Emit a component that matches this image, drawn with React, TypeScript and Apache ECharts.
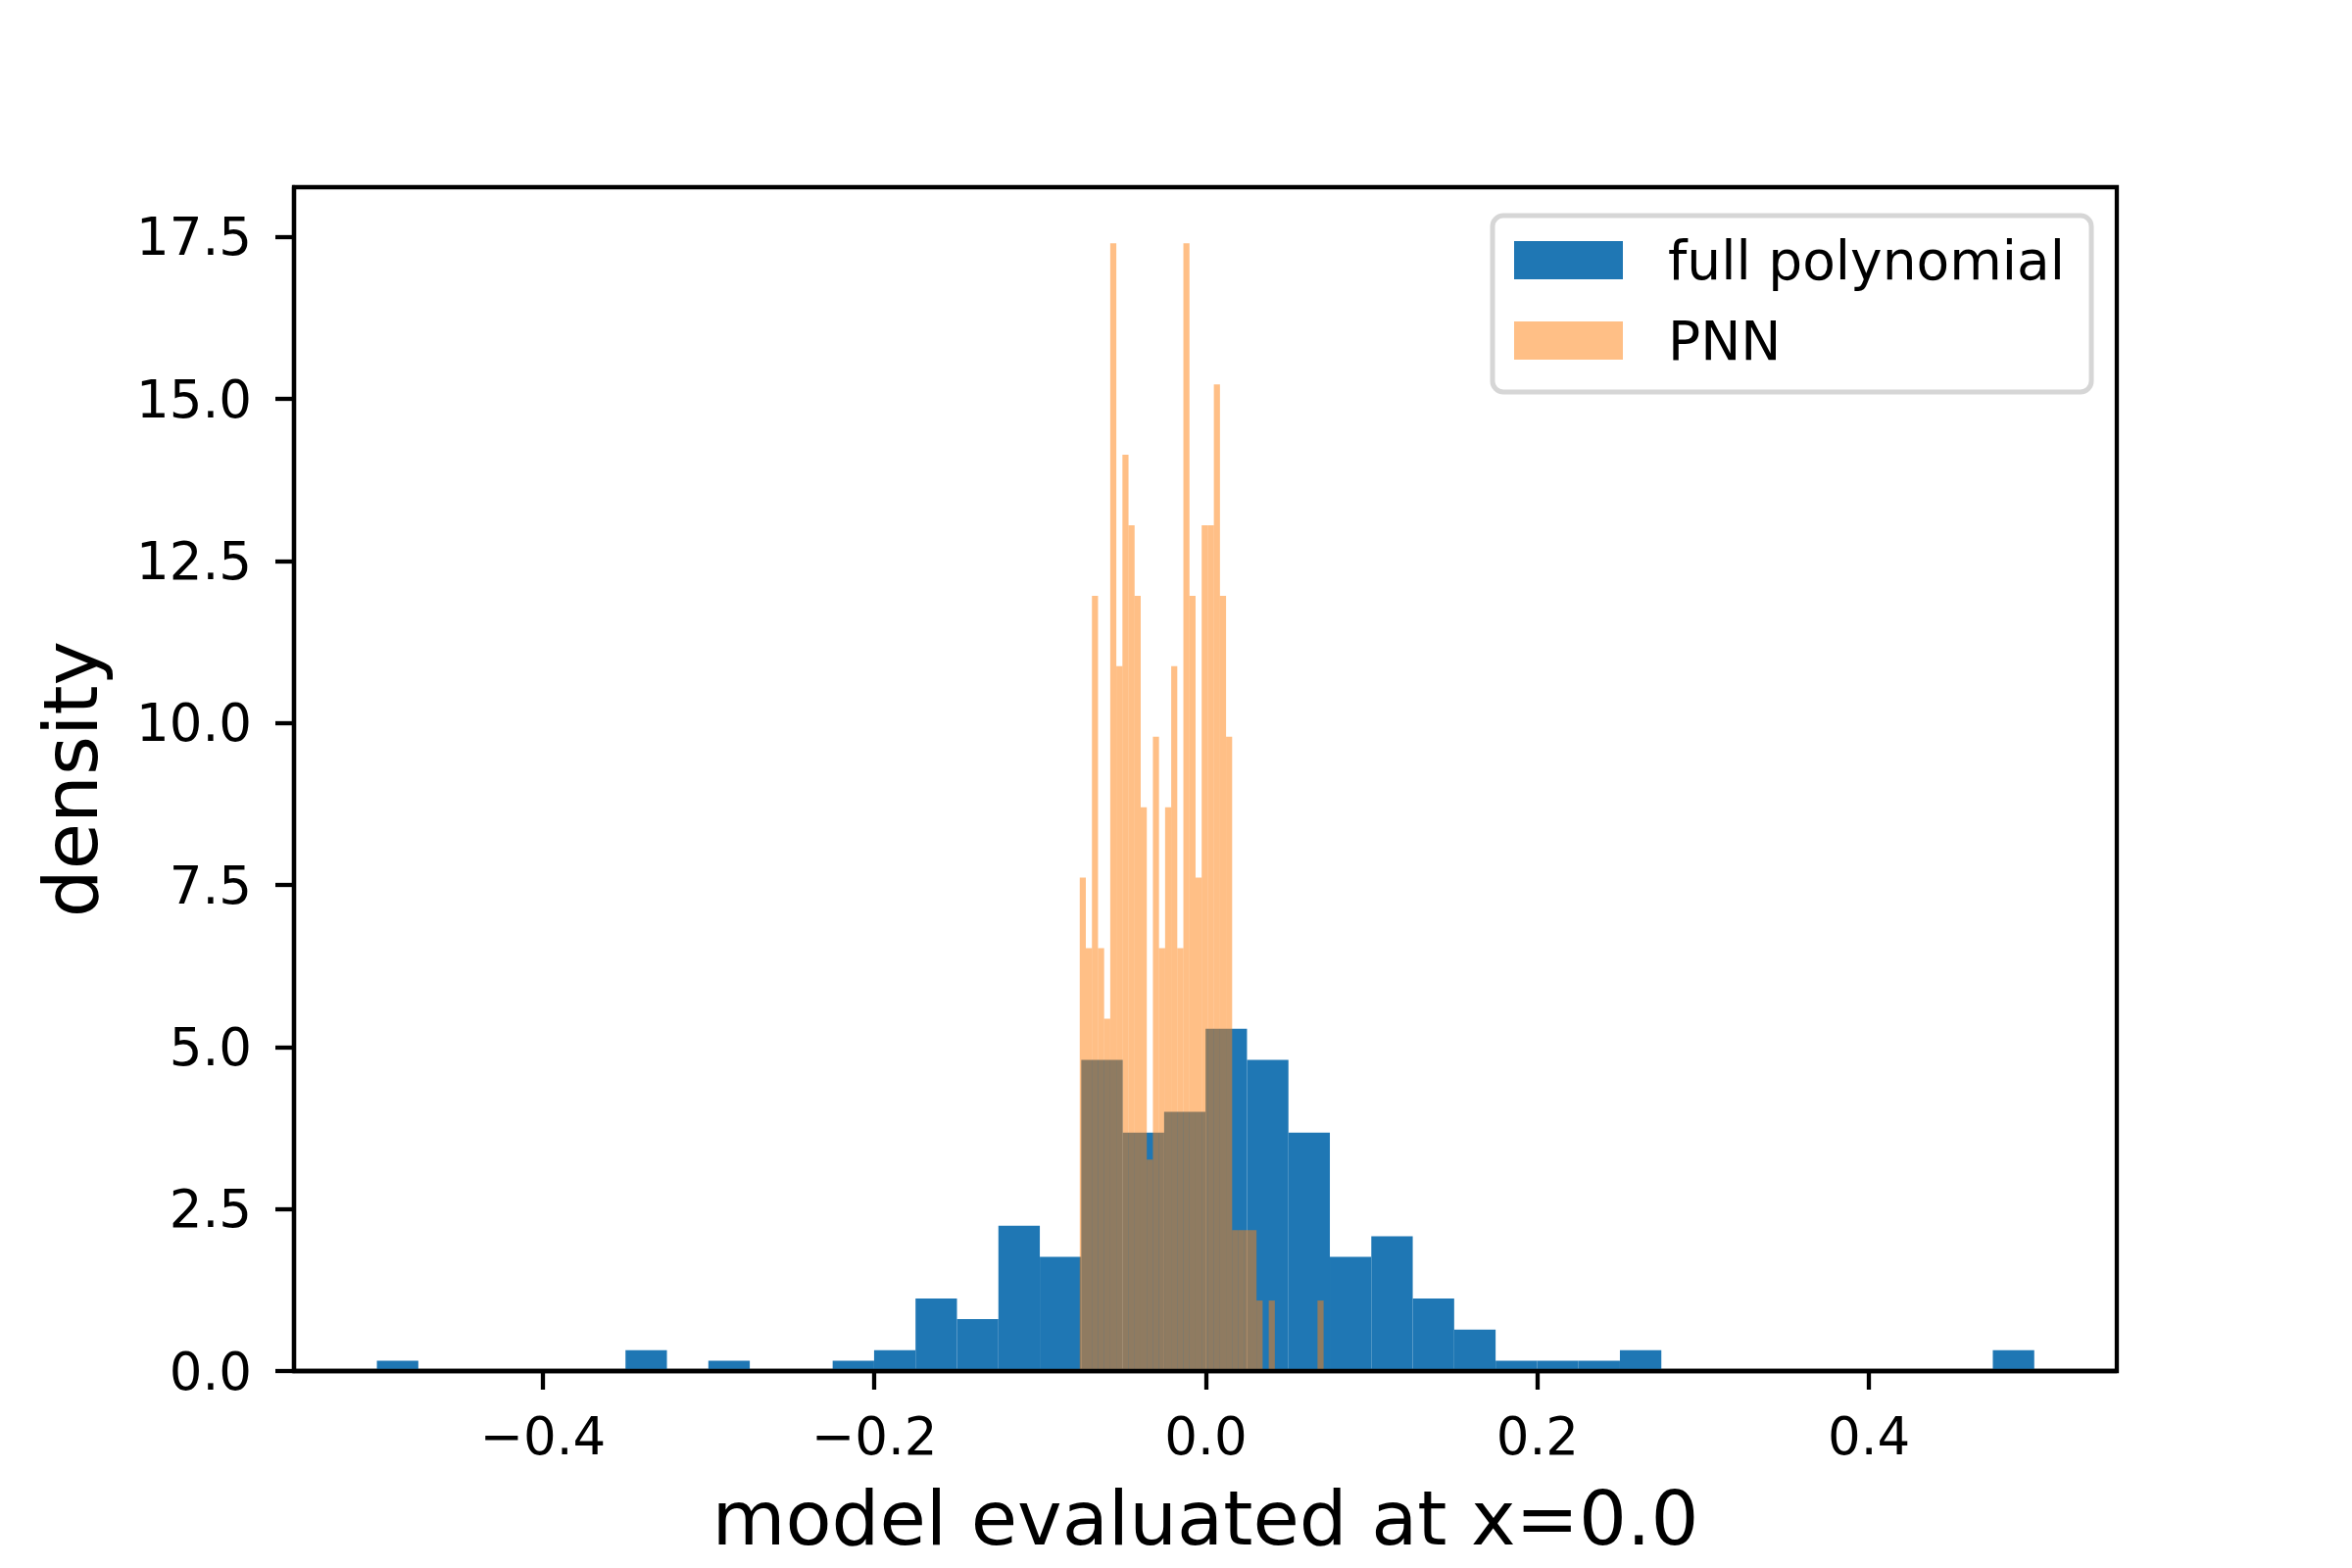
import React, { useEffect, useRef } from "react";
import * as echarts from "echarts";

// ---- data ----
const BLUE_NAME = "full polynomial";
const PNN_NAME = "PNN";
// histogram counts (40 bins each), normalised to density like matplotlib's density=True
const BLUE_COUNTS = [
  1, 0, 0, 0, 0, 0, 2, 0, 1, 0, 0, 1, 2, 7, 5, 14, 11, 30, 23, 25,
  33, 30, 23, 11, 13, 7, 4, 1, 1, 1, 2, 0, 0, 0, 0, 0, 0, 0, 0, 2,
];
const PNN_COUNTS = [
  7, 6, 11, 6, 5, 16, 10, 13, 12, 11, 8, 3, 9, 6, 8, 10, 6, 16, 11, 7,
  12, 12, 14, 11, 9, 2, 2, 2, 2, 1, 0, 1, 0, 0, 0, 0, 0, 0, 0, 1,
];
const BLUE_RANGE = [-0.5001, 0.4997];
const PNN_RANGE = [-0.0761, 0.071];
const X_EXTENT = [-0.5501, 0.5495];
const Y_EXTENT = [0, 18.27];
const X_TICKS = [-0.4, -0.2, 0, 0.2, 0.4];
const Y_TICKS = [0, 2.5, 5, 7.5, 10, 12.5, 15, 17.5];
const X_LABEL = "model evaluated at x=0.0";
const Y_LABEL = "density";

const FONT = "'DejaVu Sans', sans-serif";
const BLUE = "#1f77b4";
const ORANGE_FILL = "rgba(255,127,14,0.5)";
const ORANGE_LEGEND = "#ffbf86";

function toBins(counts: number[], range: number[]) {
  const n = counts.length;
  const w = (range[1] - range[0]) / n;
  const total = counts.reduce((a, b) => a + b, 0);
  return counts.map((c, i) => [range[0] + i * w, range[0] + (i + 1) * w, c / (total * w)]);
}

function histSeries(name: string, counts: number[], range: number[], fill: string, z: number) {
  return {
    name,
    type: "custom",
    z,
    dimensions: ["x0", "x1", "density"],
    encode: { x: [0, 1], y: 2 },
    itemStyle: { color: fill },
    data: toBins(counts, range),
    renderItem: (params: any, api: any) => {
      const a = api.coord([api.value(0), 0]);
      const b = api.coord([api.value(1), api.value(2)]);
      return {
        type: "rect",
        shape: { x: a[0], y: b[1], width: b[0] - a[0], height: a[1] - b[1] },
        style: { fill },
      };
    },
  };
}

export default function App() {
  const ref = useRef<HTMLDivElement>(null);
  useEffect(() => {
    if (!ref.current) return;
    const chart = echarts.init(ref.current, undefined, { renderer: "svg" });
    const fmtX = (v: number) => (v < 0 ? "\u2212" + Math.abs(v).toFixed(1) : v.toFixed(1));
    chart.setOption({
      animation: false,
      backgroundColor: "#ffffff",
      grid: {
        left: 300,
        top: 191,
        width: 1860,
        height: 1208,
        show: true,
        borderColor: "#000",
        borderWidth: 4.3,
        backgroundColor: "transparent",
      },
      legend: {
        orient: "vertical",
        left: 1523,
        top: 220,
        padding: [18, 27, 25, 22],
        itemWidth: 111,
        itemHeight: 39,
        itemGap: 27,
        backgroundColor: "#ffffff",
        borderColor: "#d6d6d6",
        borderWidth: 5,
        borderRadius: 11,
        selectedMode: false,
        textStyle: {
          fontSize: 55,
          fontFamily: FONT,
          color: "#000",
          padding: [0, 0, 0, 41],
        },
        data: [
          { name: BLUE_NAME, icon: "rect", itemStyle: { color: BLUE } },
          { name: PNN_NAME, icon: "rect", itemStyle: { color: ORANGE_LEGEND } },
        ],
      },
      xAxis: {
        type: "value",
        min: X_EXTENT[0],
        max: X_EXTENT[1],
        z: 5,
        name: X_LABEL,
        nameLocation: "middle",
        nameGap: 112,
        nameTextStyle: { fontSize: 77, fontFamily: FONT, color: "#000" },
        splitLine: { show: false },
        axisLine: { show: true, onZero: false, lineStyle: { color: "#000", width: 4.3 } },
        axisTick: {
          show: true,
          inside: false,
          length: 19,
          lineStyle: { color: "#000", width: 4.3 },
          customValues: X_TICKS,
        },
        axisLabel: {
          margin: 40,
          fontSize: 53,
          fontFamily: FONT,
          color: "#000",
          customValues: X_TICKS,
          formatter: fmtX,
        },
      },
      yAxis: {
        type: "value",
        min: Y_EXTENT[0],
        max: Y_EXTENT[1],
        z: 5,
        name: Y_LABEL,
        nameLocation: "middle",
        nameGap: 189,
        nameTextStyle: { fontSize: 77, fontFamily: FONT, color: "#000" },
        splitLine: { show: false },
        axisLine: { show: true, onZero: false, lineStyle: { color: "#000", width: 4.3 } },
        axisTick: {
          show: true,
          inside: false,
          length: 19,
          lineStyle: { color: "#000", width: 4.3 },
          customValues: Y_TICKS,
        },
        axisLabel: {
          margin: 43,
          fontSize: 53,
          fontFamily: FONT,
          color: "#000",
          customValues: Y_TICKS,
          formatter: (v: number) => v.toFixed(1),
        },
      },
      series: [
        histSeries(BLUE_NAME, BLUE_COUNTS, BLUE_RANGE, BLUE, 2),
        histSeries(PNN_NAME, PNN_COUNTS, PNN_RANGE, ORANGE_FILL, 3),
      ],
    });
    return () => chart.dispose();
  }, []);
  return (
    <div
      ref={ref}
      style={{ position: "fixed", left: 0, top: 0, width: 2400, height: 1600, background: "#fff" }}
    />
  );
}
